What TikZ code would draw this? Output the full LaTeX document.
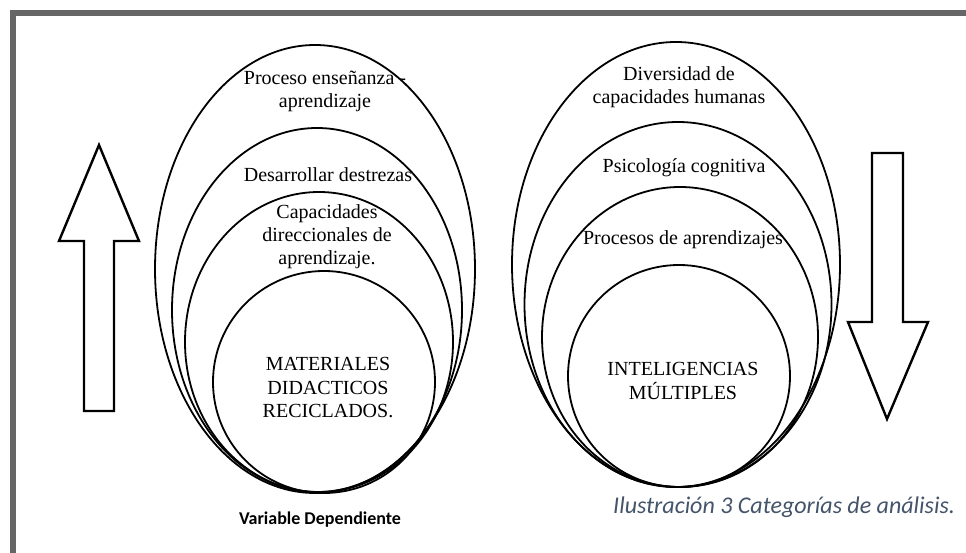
\documentclass[tikz,border=0pt]{standalone}
\usepackage{fontspec}
\setmainfont{Liberation Serif}
\newfontfamily\calibri{Carlito}
\definecolor{framegray}{HTML}{666666}
\definecolor{captionblue}{HTML}{44546A}
\begin{document}
\begin{tikzpicture}[x=1pt,y=-1pt,
  ring/.style={draw=black,line width=1.8pt},
  bigarrow/.style={draw=black,line width=2.4pt,line join=miter,fill=white},
  lbl/.style={align=center,font=\fontsize{20}{23}\selectfont,inner sep=0pt},
  caps/.style={align=center,font=\fontsize{20}{23.5}\selectfont,inner sep=0pt}]
\useasboundingbox (0,0) rectangle (966,553);
\fill[white] (0,0) rectangle (966,553);
% frame
\fill[framegray] (10,10) rectangle (966,16);
\fill[framegray] (10,10) rectangle (16,553);
% left group
\draw[ring] (315,269) ellipse [x radius=160pt,y radius=224pt];
\draw[ring] (317,310) ellipse [x radius=145pt,y radius=182pt];
\draw[ring] (319,342) ellipse [x radius=134pt,y radius=150pt];
\draw[ring] (324,382) ellipse [x radius=111pt,y radius=111pt];
\node[lbl] (l1) at (325,91) {Proceso enseñanza -\\aprendizaje};
\node[lbl] (l2) at (328,175) {Desarrollar destrezas};
\node[lbl] (l3) at (327,237) {Capacidades\\direccionales de\\aprendizaje.};
\node[caps] (l4) at (328,388) {MATERIALES\\DIDACTICOS\\RECICLADOS.};
% right group
\draw[ring] (676,264.5) ellipse [x radius=164pt,y radius=222.5pt];
\draw[ring] (678,304.5) ellipse [x radius=153.5pt,y radius=182.5pt];
\draw[ring] (680,337) ellipse [x radius=138pt,y radius=150pt];
\draw[ring] (679,376) ellipse [x radius=111pt,y radius=111pt];
\node[lbl] (r1) at (679,87) {Diversidad de\\capacidades humanas};
\node[lbl] (r2) at (684,168) {Psicología cognitiva};
\node[lbl] (r3) at (683,240) {Procesos de aprendizajes};
\node[caps] (r4) at (683,381) {INTELIGENCIAS\\MÚLTIPLES};
% arrows
\draw[bigarrow] (99,145) -- (139,241) -- (114,241) -- (114,411) -- (84,411) -- (84,241) -- (59,241) -- cycle;
\draw[bigarrow] (887,419) -- (928,322) -- (903,322) -- (903,153) -- (872,153) -- (872,322) -- (848,322) -- cycle;
% captions
\node[font=\calibri\bfseries\fontsize{18}{21}\selectfont,inner sep=0pt] (vd) at (320,520) {Variable Dependiente};
\node[font=\calibri\itshape\fontsize{24}{28}\selectfont,text=captionblue,inner sep=0pt,anchor=west] (cap) at (613,507) {Ilustración 3 Categorías de análisis.};
\end{tikzpicture}
\end{document}
